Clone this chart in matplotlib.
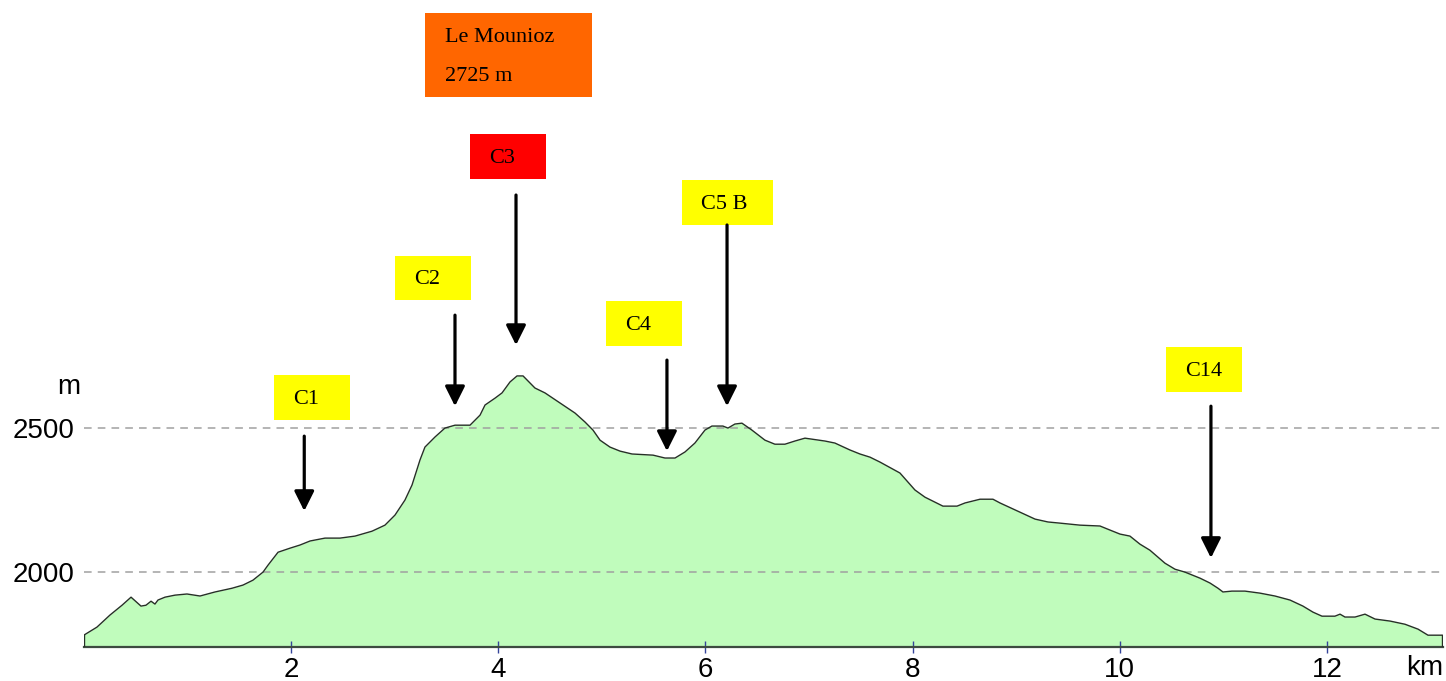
import matplotlib
matplotlib.use("Agg")

import matplotlib.pyplot as plt
import matplotlib.patches as mpatches

# Elevation profile (distance in km, altitude in m)
dist_km = [0.0, 0.127, 0.253, 0.369, 0.456, 0.552, 0.600, 0.649, 0.687, 0.716,
           0.784, 0.880, 0.996, 1.122, 1.266, 1.431, 1.537, 1.633, 1.730, 1.778,
           1.875, 1.990, 2.087, 2.184, 2.328, 2.473, 2.618, 2.782, 2.907, 3.004,
           3.100, 3.168, 3.245, 3.293, 3.390, 3.486, 3.583, 3.728, 3.825, 3.873,
           3.970, 4.037, 4.114, 4.182, 4.240, 4.355, 4.452, 4.597, 4.742, 4.838,
           4.915, 4.983, 5.079, 5.176, 5.292, 5.495, 5.610, 5.707, 5.803, 5.899,
           5.996, 6.063, 6.169, 6.218, 6.285, 6.353, 6.449, 6.575, 6.671, 6.768,
           6.864, 6.961, 7.154, 7.250, 7.395, 7.492, 7.589, 7.685, 7.878, 8.023,
           8.120, 8.293, 8.429, 8.506, 8.651, 8.776, 8.844, 9.037, 9.182, 9.307,
           9.423, 9.616, 9.809, 9.905, 10.002, 10.098, 10.195, 10.291, 10.436, 10.533,
           10.629, 10.774, 10.871, 10.948, 10.996, 11.083, 11.208, 11.353, 11.498, 11.643,
           11.768, 11.865, 11.952, 12.077, 12.126, 12.174, 12.271, 12.367, 12.464, 12.609,
           12.753, 12.879, 12.975, 13.110]
alt_m = [1781, 1809, 1851, 1885, 1913, 1882, 1885, 1899, 1889, 1903,
         1913, 1920, 1924, 1917, 1931, 1944, 1955, 1972, 2000, 2024,
         2069, 2083, 2094, 2108, 2118, 2118, 2125, 2142, 2163, 2198,
         2250, 2302, 2389, 2434, 2469, 2500, 2510, 2510, 2545, 2580,
         2604, 2622, 2660, 2681, 2681, 2639, 2622, 2587, 2552, 2521,
         2493, 2458, 2434, 2420, 2410, 2406, 2396, 2396, 2417, 2448,
         2493, 2507, 2507, 2500, 2514, 2517, 2493, 2458, 2444, 2444,
         2455, 2465, 2455, 2448, 2424, 2410, 2399, 2382, 2344, 2285,
         2260, 2229, 2229, 2240, 2253, 2253, 2240, 2208, 2184, 2174,
         2170, 2163, 2160, 2146, 2132, 2125, 2097, 2076, 2031, 2010,
         2000, 1979, 1962, 1944, 1931, 1934, 1934, 1927, 1917, 1903,
         1882, 1861, 1847, 1847, 1854, 1844, 1844, 1854, 1837, 1830,
         1819, 1802, 1781, 1781]

x_ticks = [2, 4, 6, 8, 10, 12]
y_ticks = [2000, 2500]

# Checkpoints: label, box colour, box left (km), box bottom (m), box width (km),
# arrow x (km), arrow tail (m), arrow tip (m)
checkpoints = [
    ("C1",   "#ffff00", 1.836, 2528, 0.734, 2.128, 2472, 2212),
    ("C2",   "#ffff00", 3.004, 2944, 0.734, 3.583, 2892, 2576),
    ("C3",   "#ff0000", 3.728, 3365, 0.734, 4.172, 3309, 2788),
    ("C4",   "#ffff00", 5.041, 2785, 0.734, 5.629, 2736, 2420),
    ("C5 B", "#ffff00", 5.774, 3205, 0.878, 6.209, 3205, 2576),
    ("C14",  "#ffff00", 10.446, 2625, 0.734, 10.880, 2576, 2049),
]
BOX_H = 155
SERIF = "Liberation Serif"
SANS = "Liberation Sans"

fig = plt.figure(figsize=(14.46, 6.81), dpi=100)
ax = fig.add_axes([83.8 / 1446, 34 / 681, (1443 - 83.8) / 1446, 647 / 681])

ax.fill_between(dist_km, alt_m, 1740, color="#c0fcbc", linewidth=0, zorder=1)
ax.plot(dist_km, alt_m, color="#263026", linewidth=1.0, zorder=3)
ax.plot([dist_km[0], dist_km[0]], [1740, alt_m[0]], color="#263026", linewidth=1.0, zorder=3)
ax.plot([dist_km[-1], dist_km[-1]], [1740, alt_m[-1]], color="#263026", linewidth=1.0, zorder=3)

for yv in y_ticks:
    ax.axhline(yv, color="#a0a0a0", linestyle=(0, (5, 4)), linewidth=1.1, zorder=2)

ax.set_xlim(0, 13.12)
ax.set_ylim(1740, 3986)
for side in ["top", "right", "left"]:
    ax.spines[side].set_visible(False)
ax.spines["bottom"].set_color("#3d4a40")
ax.spines["bottom"].set_linewidth(1.6)

ax.set_xticks(x_ticks)
ax.set_xticklabels([str(v) for v in x_ticks], fontsize=20, family=SANS)
ax.tick_params(axis="x", direction="inout", length=8, width=1, color="#34449a", pad=3)
ax.set_yticks(y_ticks)
ax.set_yticklabels([str(v) for v in y_ticks], fontsize=20, family=SANS)
ax.tick_params(axis="y", length=0, pad=7)

fig.text(80 / 1446, 1 - 387 / 681, "m", fontsize=20, family=SANS,
         ha="right", va="center")
fig.text(1425 / 1446, 1 - 668 / 681, "km", fontsize=20, family=SANS,
         ha="center", va="center")

# Checkpoint boxes and arrows
for label, col, bx, by, bw, ax_x, tail, tip in checkpoints:
    ax.add_patch(mpatches.Rectangle((bx, by), bw, BOX_H, facecolor=col,
                                    edgecolor="none", zorder=4))
    ax.text(bx + 0.185, by + BOX_H / 2 - 5, label, fontsize=16, family=SERIF,
            ha="left", va="center", zorder=5)
    ax.annotate("", xy=(ax_x, tip), xytext=(ax_x, tail),
                arrowprops=dict(arrowstyle="-|>", color="black", lw=2.3,
                                mutation_scale=30, shrinkA=0, shrinkB=0),
                zorder=5)

# Summit box
ax.add_patch(mpatches.Rectangle((3.293, 3649), 1.612, 292, facecolor="#ff6600",
                                edgecolor="none", zorder=4))
ax.text(3.293 + 0.195, 3649 + 292 - 85, "Le Mounioz", fontsize=16,
        family=SERIF, ha="left", va="center", zorder=5)
ax.text(3.293 + 0.195, 3649 + 292 - 220, "2725 m", fontsize=16,
        family=SERIF, ha="left", va="center", zorder=5)

plt.savefig("out.png", dpi=100)
plt.close(fig)
